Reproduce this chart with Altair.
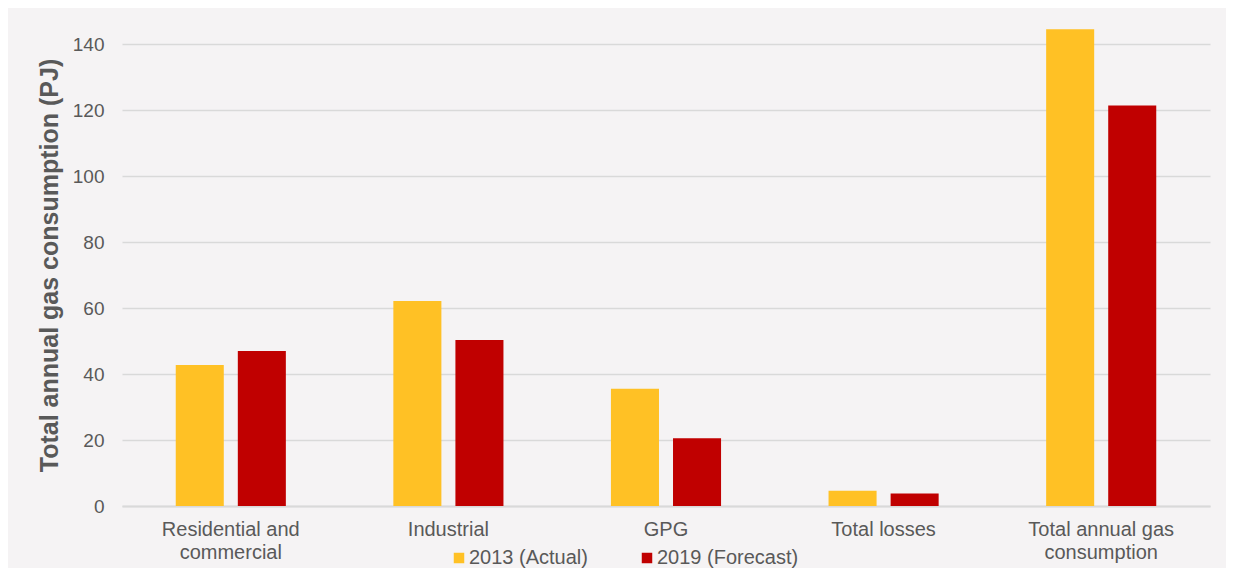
import altair as alt
import pandas as pd

categories = ["Residential and commercial", "Industrial", "GPG", "Total losses", "Total annual gas consumption"]
series = ["2013 (Actual)", "2019 (Forecast)"]
values_2013 = [42.7, 62.1, 35.5, 4.6, 144.5]
values_2019 = [47.0, 50.3, 20.5, 3.8, 121.4]
y_ticks = [0, 20, 40, 60, 80, 100, 120, 140]
colors = ["#FFC125", "#C00000"]

rows = []
for c, a, b in zip(categories, values_2013, values_2019):
    rows.append({"category": c, "series": series[0], "value": a})
    rows.append({"category": c, "series": series[1], "value": b})
df = pd.DataFrame(rows)

grey = "#595959"
font = "Liberation Sans"

label_expr = (
    "datum.value == 'Residential and commercial' ? ['Residential and', 'commercial'] : "
    "datum.value == 'Total annual gas consumption' ? ['Total annual gas', 'consumption'] : datum.value"
)

chart = alt.Chart(df).mark_bar().encode(
    x=alt.X("category:N", sort=categories, title=None,
            scale=alt.Scale(paddingInner=0.494, paddingOuter=0.247),
            axis=alt.Axis(labelAngle=0, labelExpr=label_expr, labelFontSize=20,
                          labelColor=grey, labelFont=font, labelLineHeight=23,
                          labelPadding=13, ticks=False, domain=True,
                          domainColor="#D9D9D9", domainWidth=2, grid=False)),
    xOffset=alt.XOffset("series:N", sort=series,
                        scale=alt.Scale(paddingInner=0.226, paddingOuter=0)),
    y=alt.Y("value:Q", title="Total annual gas consumption (PJ)",
            scale=alt.Scale(domain=[0, 150], nice=False),
            axis=alt.Axis(values=y_ticks, labelFontSize=19, labelColor=grey,
                          labelFont=font, labelPadding=18, ticks=False, domain=False,
                          gridColor="#D9D9D9", gridWidth=1.5,
                          titleFontSize=25, titleFont=font, titleColor=grey,
                          titleFontWeight="bold", titlePadding=10,
                          titleY=254, titleAlign="center")),
    color=alt.Color("series:N", sort=series,
                    scale=alt.Scale(domain=series, range=colors),
                    legend=alt.Legend(title=None, orient="none", direction="horizontal",
                                      legendX=327, legendY=537, symbolType="square",
                                      symbolSize=110, symbolStrokeWidth=0,
                                      labelFontSize=20, labelColor=grey, labelFont=font,
                                      labelOffset=0, columnPadding=49)),
).properties(
    width=1088,
    height=495,
    background="#F5F3F4",
    padding={"left": 114, "top": 3, "right": 16, "bottom": 62},
    autosize=alt.AutoSizeParams(type="none"),
).configure_view(stroke=None)

chart.save("out.html", embed_options={"renderer": "svg", "actions": False})
